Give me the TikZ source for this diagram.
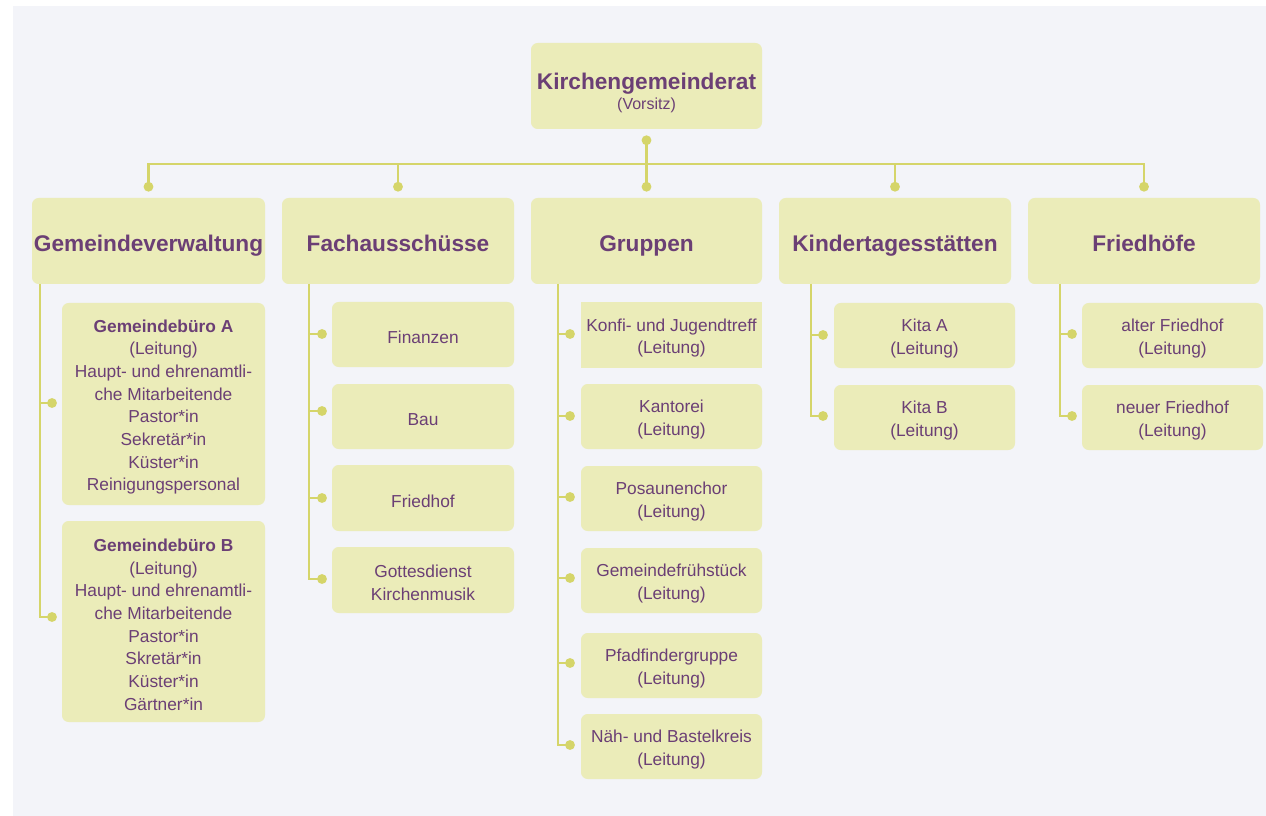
\documentclass[tikz,border=0pt]{standalone}
\usepackage{fontspec}
\setmainfont{Liberation Sans}
\usetikzlibrary{calc}
\definecolor{bgpanel}{HTML}{F3F4F9}
\definecolor{boxfill}{HTML}{EBECB9}
\definecolor{txtpurple}{HTML}{6B3F75}
\definecolor{linecol}{HTML}{D5D56A}
\newcommand\fs{\rule{0pt}{14pt}}
\tikzset{
  x=0.75pt, y=-0.75pt,
  boxst/.style={fill=boxfill, draw=none, rounded corners=5pt, inner sep=0pt,
    align=center, text=txtpurple},
  subtxt/.style={font=\fontsize{13}{17}\selectfont},
  headtxt/.style={font=\fontsize{17}{20}\selectfont\bfseries, text height=17pt, text depth=1pt},
  conn/.style={draw=linecol, line width=2.2pt},
  dotst/.style={fill=linecol},
}
\newcommand\mybox[7][]{\node[boxst,#1, minimum width={(#4-#2)*0.75pt}, minimum height={(#5-#3)*0.75pt}] (#6) at ({(#2+#4)/2},{(#3+#5)/2}) {#7};}
\begin{document}
\begin{tikzpicture}
\useasboundingbox (0,0) rectangle (1266,816);
\fill[white] (0,0) rectangle (1266,816);
\fill[bgpanel] (13,6) rectangle (1266,816);

% top
\mybox[font=\fontsize{12}{14}\selectfont]{531}{43}{762}{129}{top}{\rule{0pt}{22pt}{\fontsize{17}{20}\selectfont\bfseries Kirchengemeinderat}\\[1pt](Vorsitz)}

% level 1
\mybox[headtxt]{32}{198}{265}{284}{gv}{Gemeindeverwaltung}
\mybox[headtxt]{282}{198}{514}{284}{fa}{Fachausschüsse}
\mybox[headtxt]{531}{198}{762}{284}{gr}{Gruppen}
\mybox[headtxt]{779}{198}{1011}{284}{ki}{Kindertagesstätten}
\mybox[headtxt]{1028}{198}{1260}{284}{fr}{Friedhöfe}

% Gemeindeverwaltung
\mybox[subtxt]{62}{303}{265}{505}{gvA}{\fs\textbf{Gemeindebüro A}\\(Leitung)\\Haupt- und ehrenamtli-\\che Mitarbeitende\\Pastor*in\\Sekretär*in\\Küster*in\\Reinigungspersonal}
\mybox[subtxt]{62}{521}{265}{722}{gvB}{\fs\textbf{Gemeindebüro B}\\(Leitung)\\Haupt- und ehrenamtli-\\che Mitarbeitende\\Pastor*in\\Skretär*in\\Küster*in\\Gärtner*in}

% Fachausschuesse
\mybox[subtxt]{332}{302}{514}{367}{fa1}{\fs Finanzen}
\mybox[subtxt]{332}{384}{514}{449}{fa2}{\fs Bau}
\mybox[subtxt]{332}{465}{514}{531}{fa3}{\fs Friedhof}
\mybox[subtxt]{332}{547}{514}{613}{fa4}{\fs Gottesdienst\\Kirchenmusik}

% Gruppen
\mybox[subtxt,rounded corners=0pt]{581}{302}{762}{368}{gr1}{\fs Konfi- und Jugendtreff\\(Leitung)}
\mybox[subtxt]{581}{384}{762}{449}{gr2}{\fs Kantorei\\(Leitung)}
\mybox[subtxt]{581}{466}{762}{531}{gr3}{\fs Posaunenchor\\(Leitung)}
\mybox[subtxt]{581}{548}{762}{613}{gr4}{\fs Gemeindefrühstück\\(Leitung)}
\mybox[subtxt]{581}{633}{762}{698}{gr5}{\fs Pfadfindergruppe\\(Leitung)}
\mybox[subtxt]{581}{714}{762}{779}{gr6}{\fs Näh- und Bastelkreis\\(Leitung)}

% Kitas
\mybox[subtxt]{834}{303}{1015}{368}{ki1}{\fs Kita A\\(Leitung)}
\mybox[subtxt]{834}{385}{1015}{450}{ki2}{\fs Kita B\\(Leitung)}

% Friedhoefe
\mybox[subtxt]{1082}{303}{1263}{368}{fr1}{\fs alter Friedhof\\(Leitung)}
\mybox[subtxt]{1082}{385}{1263}{450}{fr2}{\fs neuer Friedhof\\(Leitung)}

% top connectors
\coordinate (topd) at ($(top.south)+(0,11)$);
\coordinate (bar) at (646,164);
\foreach \n in {gv,fa,gr,ki,fr}{
  \coordinate (\n d) at ($(\n.north)+(0,-11)$);
}
\draw[conn] (topd) -- (grd);
\draw[conn] (gvd) |- (bar) -| (frd);
\draw[conn] (fad) |- (bar);
\draw[conn] (kid) |- (bar);
\foreach \n in {top,gv,fa,gr,ki,fr}{
  \fill[dotst] (\n d) circle (3.7pt);
}

% sub connectors
\coordinate (gvL) at (40,284);
\coordinate (gvAd) at (52,403);
\coordinate (gvBd) at (52,617);
\draw[conn] (gvL) |- (gvBd);
\draw[conn] (gvAd -| gvL) -- (gvAd);

\coordinate (faL) at (309,284);
\coordinate (fa1d) at (322,334);
\coordinate (fa2d) at (322,411);
\coordinate (fa3d) at (322,498);
\coordinate (fa4d) at (322,579);
\draw[conn] (faL) |- (fa4d);
\foreach \i in {1,2,3}{\draw[conn] (fa\i d -| faL) -- (fa\i d);}

\coordinate (grL) at (558,284);
\coordinate (gr1d) at (570,334);
\coordinate (gr2d) at (570,416);
\coordinate (gr3d) at (570,497);
\coordinate (gr4d) at (570,578);
\coordinate (gr5d) at (570,663);
\coordinate (gr6d) at (570,745);
\draw[conn] (grL) |- (gr6d);
\foreach \i in {1,...,5}{\draw[conn] (gr\i d -| grL) -- (gr\i d);}

\coordinate (kiL) at (811,284);
\coordinate (ki1d) at (823,335);
\coordinate (ki2d) at (823,416);
\draw[conn] (kiL) |- (ki2d);
\draw[conn] (ki1d -| kiL) -- (ki1d);

\coordinate (frL) at (1060,284);
\coordinate (fr1d) at (1072,334);
\coordinate (fr2d) at (1072,416);
\draw[conn] (frL) |- (fr2d);
\draw[conn] (fr1d -| frL) -- (fr1d);

\foreach \d in {gvAd,gvBd,fa1d,fa2d,fa3d,fa4d,gr1d,gr2d,gr3d,gr4d,gr5d,gr6d,ki1d,ki2d,fr1d,fr2d}{
  \fill[dotst] (\d) circle (3.7pt);
}
\end{tikzpicture}
\end{document}
